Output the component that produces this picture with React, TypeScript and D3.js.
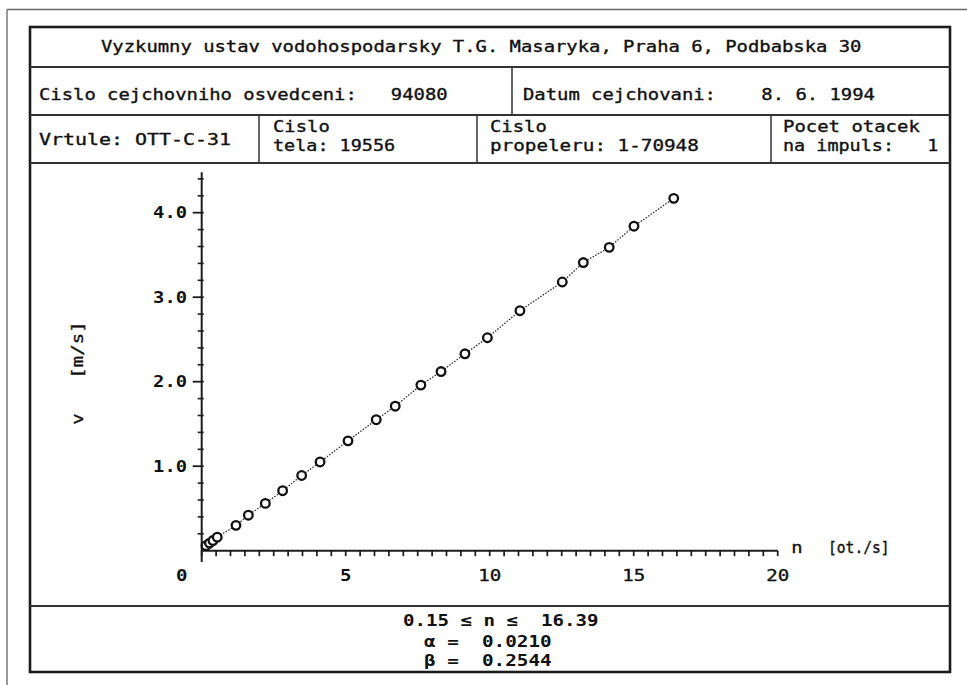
import React from "react";
import * as d3 from "d3";

// ---- data ----
const nValues = [0.15, 0.27, 0.39, 0.54, 1.19, 1.62, 2.21, 2.81, 3.47, 4.11, 5.08, 6.06, 6.72, 7.61, 8.31, 9.14, 9.92, 11.05, 12.52, 13.25, 14.15, 15.01, 16.39];
const vValues = [0.06, 0.09, 0.12, 0.16, 0.30, 0.42, 0.56, 0.71, 0.89, 1.05, 1.30, 1.55, 1.71, 1.96, 2.12, 2.33, 2.52, 2.84, 3.18, 3.41, 3.59, 3.84, 4.17];
const xTickLabels = ["0", "5", "10", "15", "20"];
const xTickValues = [0, 5, 10, 15, 20];
const yTickLabels = ["1.0", "2.0", "3.0", "4.0"];
const yTickValues = [1, 2, 3, 4];
const xDomain = [0, 20];
const yAxisTop = 4.48;

const titleText = "Vyzkumny ustav vodohospodarsky T.G. Masaryka, Praha 6, Podbabska 30";
const certText = "Cislo cejchovniho osvedceni:   94080";
const dateText = "Datum cejchovani:    8. 6. 1994";
const rangeText = "0.15 \u2264 n \u2264  16.39";
const alphaText = "\u03b1 =  0.0210";
const betaText = "\u03b2 =  0.2544";

const FONT = "'DejaVu Sans Mono', 'Liberation Mono', monospace";
const CW = 11.35;

function T({ x, y, text, anchor = "start", bold = false, size = 16, cw = CW, transform }: any) {
  return (
    <text
      x={x}
      y={y}
      textAnchor={anchor}
      fontFamily={FONT}
      fontSize={size}
      fontWeight={bold ? "bold" : "normal"}
      fill="#111"
      stroke={bold ? "none" : "#111"}
      strokeWidth={bold ? 0 : 0.35}
      textLength={text.length * cw}
      lengthAdjust="spacingAndGlyphs"
      transform={transform}
      style={{ whiteSpace: "pre" }}
      xmlSpace="preserve"
    >
      {text}
    </text>
  );
}

export default function App() {
  const x = d3.scaleLinear().domain(xDomain).range([201.7, 777.7]);
  const y = d3.scaleLinear().domain([0, 4]).range([550.7, 212.7]);

  const xMinor = d3.range(0, 20.001, 0.5);
  const yMinor = d3.range(0.2, yAxisTop, 0.2).filter((v) => Math.abs(v - Math.round(v)) > 0.01);

  const pts = nValues.map((n, i) => [n, vValues[i]] as [number, number]);
  const line = d3.line<[number, number]>().x((d) => x(d[0])).y((d) => y(d[1]));

  const box = { l: 30, r: 950, t: 27, b: 672 };
  const dark = "#1c1c1c";

  return (
    <svg width={967} height={685} style={{ position: "absolute", left: 0, top: 0, background: "#fff" }}>
      {/* outer faint frame */}
      <line x1={7} y1={9.5} x2={967} y2={9.5} stroke="#666" strokeWidth={1.5} />
      <line x1={7} y1={9.5} x2={7} y2={685} stroke="#777" strokeWidth={1.5} />

      {/* main box */}
      <rect x={box.l} y={box.t} width={box.r - box.l} height={box.b - box.t} fill="#fff" stroke={dark} strokeWidth={2.6} />
      <line x1={box.l} x2={box.r} y1={67} y2={67} stroke="#333" strokeWidth={2} />
      <line x1={box.l} x2={box.r} y1={115} y2={115} stroke="#333" strokeWidth={2} />
      <line x1={box.l} x2={box.r} y1={163} y2={163} stroke="#333" strokeWidth={2} />
      <line x1={box.l} x2={box.r} y1={606} y2={606} stroke="#333" strokeWidth={2} />
      <line x1={512} x2={512} y1={67} y2={115} stroke="#333" strokeWidth={1.5} />
      <line x1={259} x2={259} y1={115} y2={163} stroke="#333" strokeWidth={1.5} />
      <line x1={477} x2={477} y1={115} y2={163} stroke="#333" strokeWidth={1.5} />
      <line x1={771} x2={771} y1={115} y2={163} stroke="#333" strokeWidth={1.5} />

      {/* header text */}
      <T x={101} y={52} text={titleText} />
      <T x={39} y={100} text={certText} />
      <T x={523} y={100} text={dateText} />
      <T x={39} y={145} text={"Vrtule: OTT-C-31"} cw={12} />
      <T x={273} y={132} text={"Cislo"} />
      <T x={273} y={151} text={"tela: 19556"} cw={11.1} />
      <T x={490} y={132} text={"Cislo"} />
      <T x={490} y={151} text={"propeleru: 1-70948"} cw={11.6} />
      <T x={783} y={132} text={"Pocet otacek"} cw={11.4} />
      <T x={783} y={151} text={"na impuls:   1"} cw={11.1} />

      {/* axes */}
      <line x1={x(0)} x2={x(0)} y1={562} y2={y(yAxisTop)} stroke={dark} strokeWidth={2} />
      <line x1={x(0)} x2={x(20)} y1={y(0)} y2={y(0)} stroke={dark} strokeWidth={2} />
      {xMinor.map((v) => (
        <line key={"xt" + v} x1={x(v)} x2={x(v)} y1={y(0)} y2={y(0) + 5.5} stroke={dark} strokeWidth={1.7} />
      ))}
      {yMinor.map((v) => (
        <line key={"ym" + v} x1={x(0) - 4} x2={x(0) + 2} y1={y(v)} y2={y(v)} stroke={dark} strokeWidth={1.6} />
      ))}
      {yTickValues.map((v) => (
        <line key={"yM" + v} x1={x(0) - 9} x2={x(0) + 2} y1={y(v)} y2={y(v)} stroke={dark} strokeWidth={1.8} />
      ))}
      {yTickValues.map((v, i) => (
        <T key={"yl" + v} x={187} y={y(v) + 5.5} text={yTickLabels[i]} anchor="end" bold cw={11.3} />
      ))}
      {xTickValues.map((v, i) => (
        <T key={"xl" + v} x={i === 0 ? x(v) - 20 : x(v)} y={581} text={xTickLabels[i]} anchor="middle" bold={i < 2} cw={11.5} />
      ))}
      <T x={797} y={553} text={"n"} anchor="middle" />
      <T x={828} y={553} text={"[ot./s]"} cw={8.8} />
      <T x={0} y={0} text={"v   [m/s]"} anchor="middle" cw={11.5} transform={`translate(83,373) rotate(-90)`} />

      {/* fitted dotted line and points */}
      <path d={line(pts) || ""} fill="none" stroke="#222" strokeWidth={1.2} strokeDasharray="1.5 1.5" />
      {pts.map((d, i) => (
        <circle key={"p" + i} cx={x(d[0])} cy={y(d[1])} r={4.3} fill="#fff" stroke="#111" strokeWidth={2.3} />
      ))}

      {/* bottom text */}
      <T x={403} y={626} text={rangeText} bold cw={11.5} />
      <T x={424} y={647} text={alphaText} bold cw={11.6} />
      <T x={424} y={666} text={betaText} bold cw={11.6} />
    </svg>
  );
}
